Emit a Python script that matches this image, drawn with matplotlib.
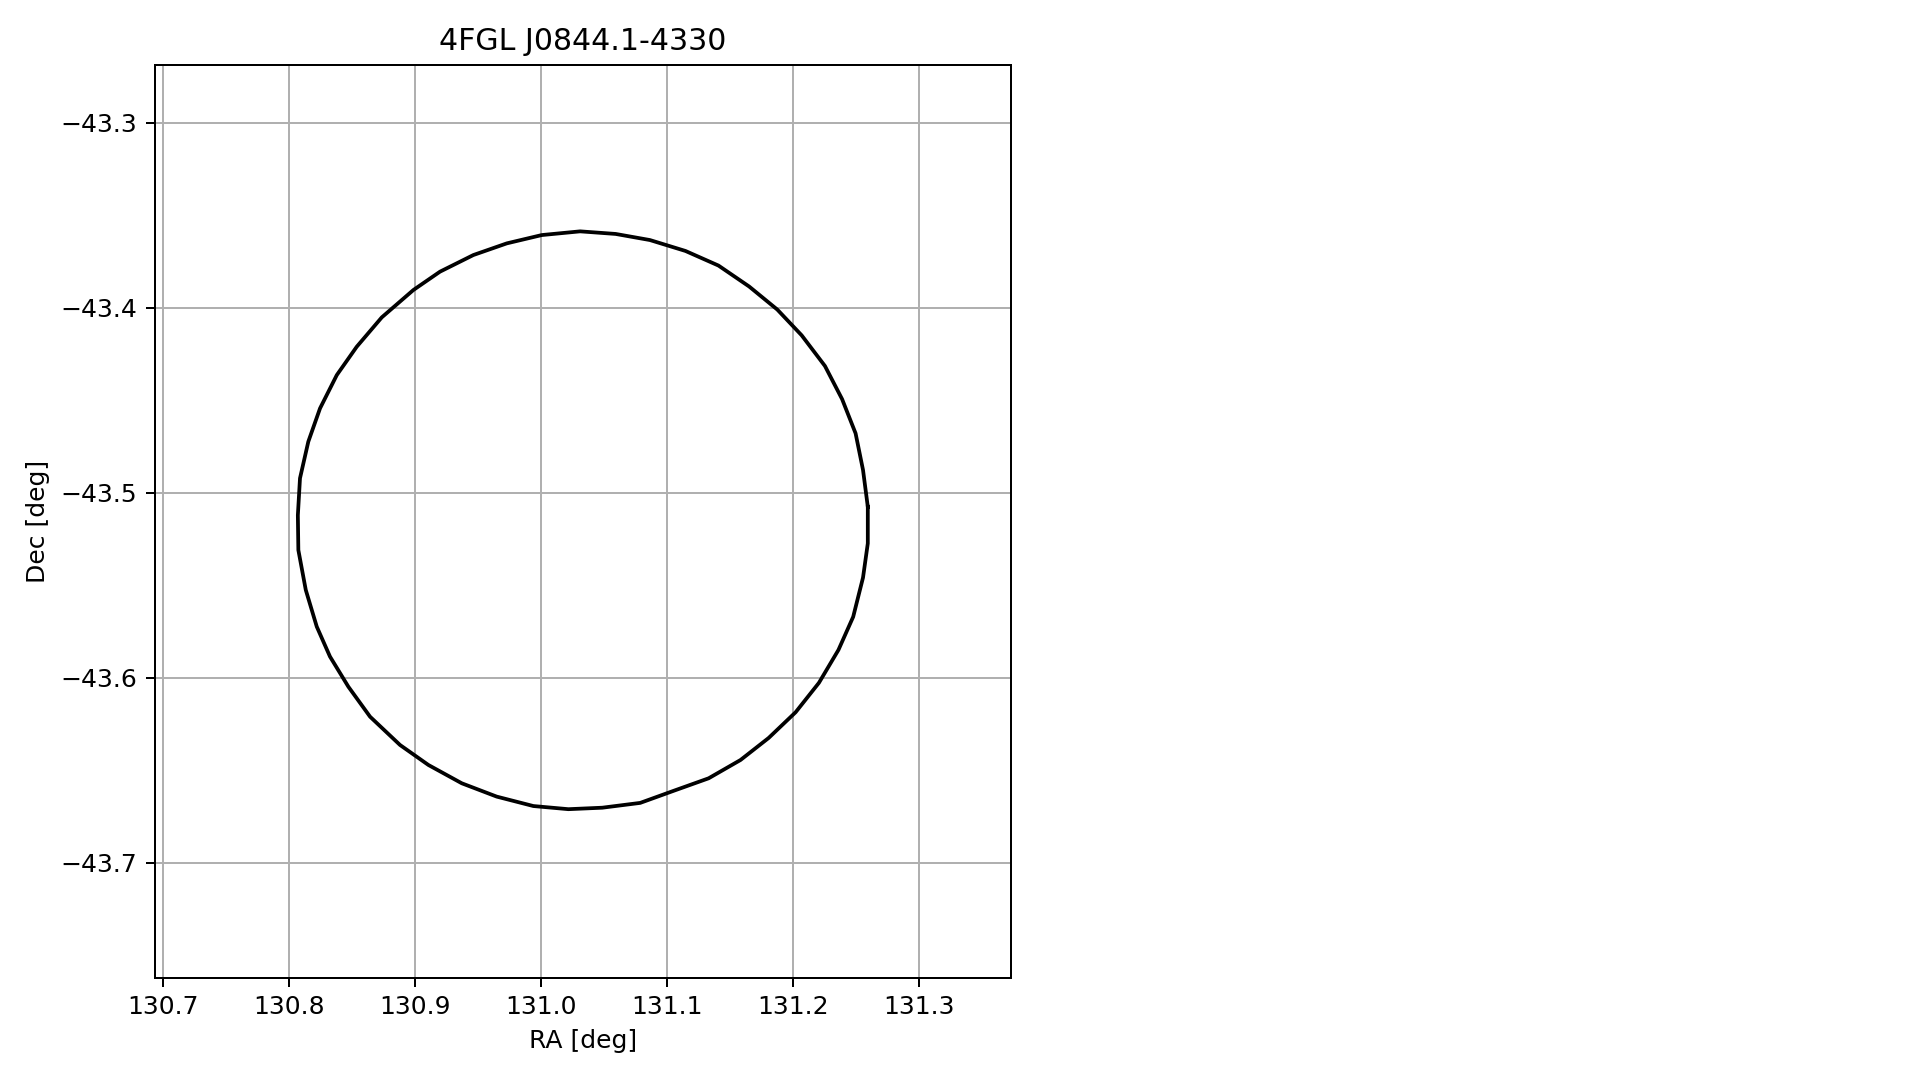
import matplotlib.pyplot as plt
import numpy as np

# source name and error-ellipse outline (RA, Dec in deg)
title = '4FGL J0844.1-4330'

ra = [131.2593, 131.2555, 131.2496, 131.2389, 131.2253, 131.2068, 131.1875,
      131.1651, 131.1408, 131.1146, 131.0864, 131.0592, 131.0310, 131.0006,
      130.9728, 130.9463, 130.9198, 130.8987, 130.8736, 130.8537, 130.8379,
      130.8246, 130.8153, 130.8087, 130.8070, 130.8074, 130.8133, 130.8220,
      130.8325, 130.8471, 130.8643, 130.8881, 130.9106, 130.9371, 130.9648,
      130.9939, 131.0217, 131.0486, 131.0787, 131.1059, 131.1330, 131.1583,
      131.1806, 131.2020, 131.2205, 131.2360, 131.2477, 131.2555, 131.2593,
      131.2593]
dec = [-43.5076, -43.4877, -43.4679, -43.4494, -43.4315, -43.4149, -43.4010,
       -43.3885, -43.3772, -43.3693, -43.3634, -43.3601, -43.3587, -43.3607,
       -43.3652, -43.3715, -43.3805, -43.3904, -43.4052, -43.4211, -43.4364,
       -43.4544, -43.4724, -43.4922, -43.5122, -43.5310, -43.5526, -43.5724,
       -43.5886, -43.6049, -43.6211, -43.6364, -43.6472, -43.6571, -43.6643,
       -43.6694, -43.6711, -43.6703, -43.6677, -43.6610, -43.6544, -43.6445,
       -43.6326, -43.6187, -43.6028, -43.5850, -43.5671, -43.5459, -43.5274,
       -43.5076]

xticks = [130.7, 130.8, 130.9, 131.0, 131.1, 131.2, 131.3]
yticks = [-43.7, -43.6, -43.5, -43.4, -43.3]

# default style drawn at a higher dpi in the original, scale up for dpi 100
s = 1.8
plt.rcParams['font.size'] = 10 * s
plt.rcParams['axes.titlesize'] = 12 * s
plt.rcParams['axes.linewidth'] = 0.8 * s
plt.rcParams['grid.linewidth'] = 0.8 * s
plt.rcParams['lines.linewidth'] = 1.5 * s
for ax_name in ['xtick', 'ytick']:
    plt.rcParams[ax_name + '.major.size'] = 3.5 * s
    plt.rcParams[ax_name + '.major.width'] = 0.8 * s
    plt.rcParams[ax_name + '.major.pad'] = 3.5 * s
plt.rcParams['axes.titlepad'] = 6 * s
plt.rcParams['axes.labelpad'] = 4 * s

fig = plt.figure(figsize=(19.19, 10.8), dpi=100)
ax = fig.add_axes([154.7 / 1919, 1 - 977.5 / 1080, (1010.7 - 154.7) / 1919, (977.5 - 64.7) / 1080])

ax.plot(ra, dec, color='black')

ax.set_xlim(130.6934, 131.3727)
ax.set_ylim(-43.7621, -43.2686)
ax.set_xticks(xticks)
ax.set_yticks(yticks)
ax.grid(True)
ax.set_xlabel('RA [deg]')
ax.set_ylabel('Dec [deg]')
ax.set_title(title)

fig.savefig('out.png', dpi=100)
